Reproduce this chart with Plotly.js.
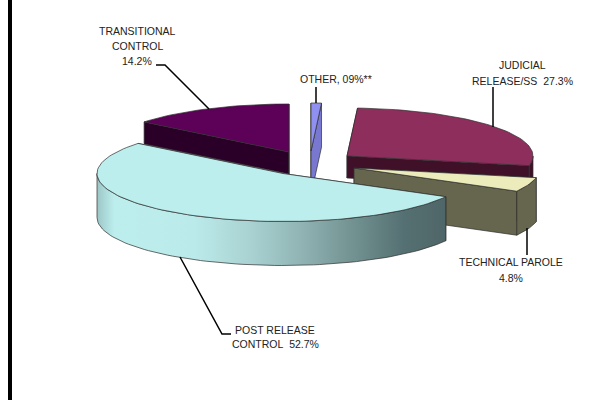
<!DOCTYPE html>
<html><head><meta charset="utf-8">
<script src="https://cdn.plot.ly/plotly-3.0.1.min.js"></script>
<style>html,body{margin:0;padding:0;background:#fff}</style></head>
<body><div id="chart" style="width:593px;height:400px"></div>
<script>
// ---- data (clockwise from 12 o'clock) ----
const categories = ['OTHER', 'JUDICIAL RELEASE/SS', 'TECHNICAL PAROLE', 'POST RELEASE CONTROL', 'TRANSITIONAL CONTROL'];
const shares = [0.9, 27.3, 4.8, 52.7, 14.2];
const labelTexts = [
  'OTHER, 09%**',
  'JUDICIAL<br>RELEASE/SS\u00a0\u00a027.3%',
  'TECHNICAL PAROLE<br>4.8%',
  'POST RELEASE<br>CONTROL\u00a0\u00a052.7%',
  'TRANSITIONAL<br>CONTROL<br>14.2%'
];

// ---- projection of the 3D pie ----
const RX = 186, RY = 48;
const startDeg = 270;
const apex = [[311,151],[347,156],[354,168],[283,173.5],[289,152]];
const depth = [44,22,44,44,22];
const topCol = ['#9090f0','#8d2e5c','#ecebbb','#bceeee','#5c0058'];
const sideCol = ['#7878d0','#3f1028','#66664e','#4f6668','#2a0028'];
const drawOrder = [4,0,1,2,3];
const labelX = [[336],[522,522],[510.5,511],[275,275],[137,137,137]];
const labelY = [[79],[65,81],[262,278],[330,344],[31,46,61]];
const leaders = [
  [[316,87],[316,103]],
  [[493,87],[493,127]],
  [[527,228],[527,255]],
  [[180,257],[222,334],[231,334]],
  [[156,65],[165,65],[209,109]]
];
const EDGE = {color:'#2e2e2e', width:0.7};

const total = shares.reduce((a,b)=>a+b,0);
let acc = startDeg;
const spans = shares.map(v=>{const a=acc; acc+=v/total*360; return [a,acc];});
const rim = (i,deg,dz=0)=>{const t=deg*Math.PI/180;
  return [apex[i][0]+RX*Math.cos(t), apex[i][1]+RY*Math.sin(t)+dz];};
const arc = (i,a,b,dz=0)=>{const n=Math.max(2,Math.ceil(Math.abs(b-a)/2));const p=[];
  for(let k=0;k<=n;k++)p.push(rim(i,a+(b-a)*k/n,dz));return p;};
const poly = (pts,color,extra={})=>Object.assign({
  type:'scatter',mode:'lines',x:pts.map(p=>p[0]),y:pts.map(p=>p[1]),
  fill:'toself',fillcolor:color,line:EDGE,hoverinfo:'skip',showlegend:false},extra);

const traces = [];
drawOrder.forEach(i=>{
  const [a0,a1]=spans[i], d=depth[i], c=apex[i];
  [a0,a1].forEach(a=>{
    const r=rim(i,a);
    traces.push(poly([c,r,[r[0],r[1]+d],[c[0],c[1]+d],c],sideCol[i]));
  });
  const lo=[];
  [0,360].forEach(w=>{
    const s=Math.max(a0,w), e=Math.min(a1,w+180);
    if(e>s) lo.push([s,e]);
  });
  lo.forEach(([s,e])=>{
    const pts=arc(i,s,e).concat(arc(i,e,s,d));pts.push(pts[0]);
    const extra = categories[i].startsWith('POST') ? {
      fillgradient:{type:'horizontal',start:97,stop:446,colorscale:[
        [0,'#9cc6c6'],[0.05,'#bdeeee'],[0.28,'#bbeaea'],[0.45,'#a8d0d0'],
        [0.6,'#8eb0b0'],[0.75,'#6f8e8e'],[0.88,'#557072'],[1,'#4f6668']]}
    } : {};
    traces.push(poly(pts,sideCol[i],extra));
  });
  const top=[c].concat(arc(i,a0,a1));top.push(c);
  traces.push(poly(top,topCol[i]));
});
leaders.forEach(l=>traces.push({type:'scatter',mode:'lines',x:l.map(p=>p[0]),y:l.map(p=>p[1]),
  line:{color:'#000',width:1.5},hoverinfo:'skip',showlegend:false}));

const annotations = [];
labelTexts.forEach((t,i)=>t.split('<br>').forEach((line,k)=>annotations.push({
  x:labelX[i][k],y:labelY[i][k],xref:'x',yref:'y',text:line,showarrow:false,
  xanchor:'center',yanchor:'middle',align:'center',
  font:{family:'Liberation Sans, Arial, sans-serif',size:10.5,color:'#222'}
})));

Plotly.newPlot('chart',traces,{
  width:593,height:400,margin:{l:0,r:0,t:0,b:0},
  paper_bgcolor:'#fff',plot_bgcolor:'#fff',showlegend:false,
  xaxis:{range:[0,593],visible:false,fixedrange:true},
  yaxis:{range:[400,0],visible:false,fixedrange:true},
  annotations,
  shapes:[{type:'rect',xref:'x',yref:'y',x0:8,x1:12,y0:0,y1:400,fillcolor:'#000',line:{width:0}}]
},{displayModeBar:false,staticPlot:true});
</script></body></html>
